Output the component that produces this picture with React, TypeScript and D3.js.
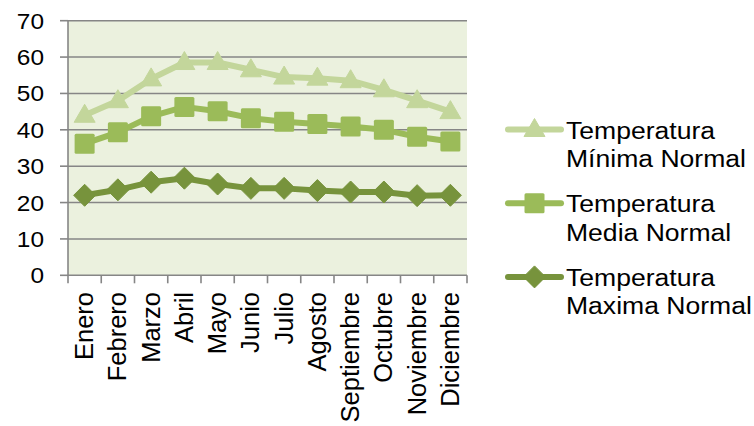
import React from "react";
import * as d3 from "d3";

const months = [
  "Enero", "Febrero", "Marzo", "Abril", "Mayo", "Junio",
  "Julio", "Agosto", "Septiembre", "Octubre", "Noviembre", "Diciembre",
];
const tempMinima = [44, 48, 54, 58.5, 58.5, 56.5, 54.5, 54.2, 53.5, 51, 48, 45];
const tempMedia = [36.2, 39.3, 43.7, 46.3, 45.1, 43.2, 42.2, 41.6, 40.9, 40, 38.1, 36.8];
const tempMaxima = [22, 23.5, 25.6, 26.7, 25.1, 23.9, 23.9, 23.3, 22.9, 22.9, 21.9, 22];
const yTicks = [0, 10, 20, 30, 40, 50, 60, 70];
const legendLabels = [
  ["Temperatura", "Mínima Normal"],
  ["Temperatura", "Media Normal"],
  ["Temperatura", "Maxima Normal"],
];

const W = 754;
const H = 426;
const plot = { left: 68, right: 467, top: 20.7, bottom: 275.3 };
const font = "'Liberation Sans', Arial, sans-serif";

const colors = ["#C3D69B", "#9BBB59", "#77933C"];
const bg = "#EBF1DE";
const grid = "#868686";

type Shape = "triangle" | "square" | "diamond";
const shapes: Shape[] = ["triangle", "square", "diamond"];

function Marker({ shape, x, y, color }: { shape: Shape; x: number; y: number; color: string }) {
  if (shape === "square") {
    return <rect x={x - 10} y={y - 10} width={20} height={20} rx={1.5} fill={color} />;
  }
  if (shape === "diamond") {
    return (
      <path
        d={`M${x},${y - 11}L${x + 11},${y}L${x},${y + 11}L${x - 11},${y}Z`}
        fill={color}
        stroke={color}
        strokeWidth={1}
        strokeLinejoin="round"
      />
    );
  }
  return (
    <path
      d={`M${x},${y - 11}L${x + 10.5},${y + 7}L${x - 10.5},${y + 7}Z`}
      fill={color}
      stroke={color}
      strokeWidth={1}
      strokeLinejoin="round"
    />
  );
}

export default function App() {
  const x = d3.scaleBand<string>().domain(months).range([plot.left, plot.right]).padding(0);
  const y = d3.scaleLinear().domain([0, 70]).range([plot.bottom, plot.top]);
  const cx = (m: string) => (x(m) as number) + x.bandwidth() / 2;

  const series = [tempMinima, tempMedia, tempMaxima];
  const line = d3
    .line<number>()
    .x((_, i) => cx(months[i]))
    .y((d) => y(d));

  const boundaries = months.map((m) => x(m) as number).concat([plot.right]);

  return (
    <svg
      width={W}
      height={H}
      style={{ position: "absolute", left: 0, top: 0, background: "#fff" }}
      fontFamily={font}
    >
      <rect
        x={plot.left}
        y={plot.top}
        width={plot.right - plot.left}
        height={plot.bottom - plot.top}
        fill={bg}
      />
      {yTicks.map((t) => (
        <g key={t}>
          {t > 0 && (
            <line x1={plot.left} x2={plot.right} y1={y(t)} y2={y(t)} stroke={grid} strokeWidth={1.6} />
          )}
          <line x1={plot.left - 8} x2={plot.left} y1={y(t)} y2={y(t)} stroke={grid} strokeWidth={1.6} />
          <text
            transform={`translate(44,${y(t) + 8}) scale(1.11,1)`}
            textAnchor="end"
            fontSize={22}
            fill="#000"
          >
            {t}
          </text>
        </g>
      ))}
      <line x1={plot.left} x2={plot.left} y1={plot.top} y2={plot.bottom} stroke={grid} strokeWidth={1.6} />
      <line x1={plot.left} x2={plot.right} y1={plot.bottom} y2={plot.bottom} stroke={grid} strokeWidth={1.6} />
      {boundaries.map((b, i) => (
        <line key={i} x1={b} x2={b} y1={plot.bottom} y2={plot.bottom + 8} stroke={grid} strokeWidth={1.6} />
      ))}
      {months.map((m) => (
        <text
          key={m}
          transform={`translate(${cx(m) + 8.5},292) rotate(-90)`}
          textAnchor="end"
          fontSize={25.5}
          fill="#000"
        >
          {m}
        </text>
      ))}
      {series.map((s, k) => (
        <g key={k}>
          <path
            d={line(s) as string}
            fill="none"
            stroke={colors[k]}
            strokeWidth={6}
            strokeLinejoin="round"
            strokeLinecap="round"
          />
          {s.map((v, i) => (
            <Marker key={i} shape={shapes[k]} x={cx(months[i])} y={y(v)} color={colors[k]} />
          ))}
        </g>
      ))}
      {legendLabels.map((lbl, k) => {
        const ly = 129.5 + k * 73.7;
        return (
          <g key={k}>
            <line x1={508} x2={561} y1={ly} y2={ly} stroke={colors[k]} strokeWidth={6} strokeLinecap="round" />
            <Marker shape={shapes[k]} x={534.5} y={ly} color={colors[k]} />
            <text transform={`translate(566,${ly + 9}) scale(1.13,1)`} fontSize={23.5} fill="#000">
              {lbl[0]}
            </text>
            <text transform={`translate(566,${ly + 37.5}) scale(1.13,1)`} fontSize={23.5} fill="#000">
              {lbl[1]}
            </text>
          </g>
        );
      })}
    </svg>
  );
}
